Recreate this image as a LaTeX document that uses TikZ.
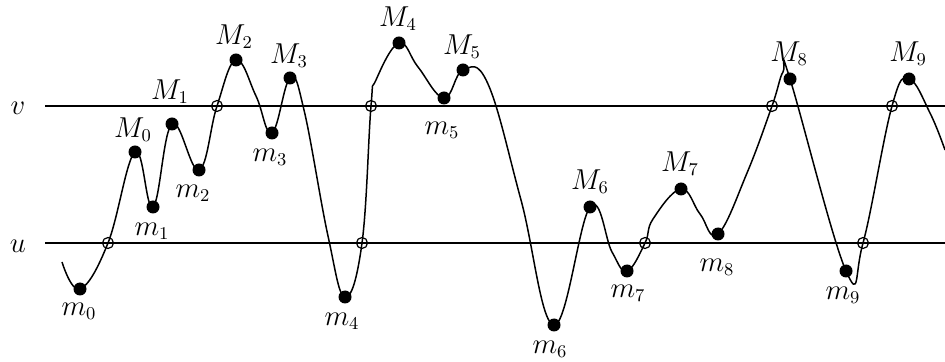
\documentclass[tikz,border=0pt]{standalone}
\begin{document}
\begin{tikzpicture}[x=0.5pt,y=-0.5pt,
  level/.style={line width=1.1pt},
  curve/.style={line width=0.75pt, line join=round},
  dotmark/.style={fill=black},
  crossmark/.style={line width=0.6pt},
  lab/.style={font=\fontsize{13.5}{16}\selectfont, inner sep=0pt}]
\useasboundingbox (0,0) rectangle (945,362);
% level lines
\coordinate (vL) at (45,106); \coordinate (vR) at (945,106);
\coordinate (uL) at (45,243); \coordinate (uR) at (945,243);
\draw[level] (vL) -- (vR);
\draw[level] (uL) -- (uR);
\node[lab] (lv) at (18,108) {$v$};
\node[lab] (lu) at (18,246) {$u$};
% extrema
\coordinate (m0) at (80,289);
\coordinate (M0) at (135,152);
\coordinate (m1) at (153,207);
\coordinate (M1) at (172,124);
\coordinate (m2) at (199,170);
\coordinate (M2) at (236,60);
\coordinate (m3) at (272,133);
\coordinate (M3) at (290,78);
\coordinate (m4) at (345,297);
\coordinate (M4) at (399,43);
\coordinate (m5) at (444,98);
\coordinate (M5) at (463,70);
\coordinate (m6) at (554,325);
\coordinate (M6) at (590,207);
\coordinate (m7) at (627,271);
\coordinate (M7) at (681,189);
\coordinate (m8) at (718,234);
\coordinate (M8) at (790,79);
\coordinate (m9) at (846,271);
\coordinate (M9) at (909,79);
% crossings
\coordinate (cu0) at (108,243);
\coordinate (cv0) at (217,106);
\coordinate (cu1) at (362,243);
\coordinate (cv1) at (371,106);
\coordinate (cu2) at (645,243);
\coordinate (cv2) at (772,106);
\coordinate (cu3) at (863,243);
\coordinate (cv3) at (892,106);
% shaping points
\coordinate (s0) at (62,262);
\coordinate (a1) at (256,96);
\coordinate (a2) at (304,110);
\coordinate (a4) at (328,236);
\coordinate (a6) at (376,80);
\coordinate (a7) at (418,67);
\coordinate (a8) at (488,84);
\coordinate (a10) at (521,200);
\coordinate (a13) at (612,252);
\coordinate (a14) at (653,219);
\coordinate (a15) at (700,214);
\coordinate (a16) at (747,173);
\coordinate (a18) at (783,72);
\coordinate (a23) at (930,113);
\coordinate (e0) at (945,150);
% curve
\draw[curve] plot[smooth, tension=0.68] coordinates {
 (s0) (m0) (cu0) (M0) (m1) (M1) (m2) (cv0) (M2) (a1) (m3) (M3) (a2) (a4) (m4)
 (cu1) (cv1) (a6) (M4) (a7) (m5) (M5) (a8) (a10) (m6) (M6)
 (a13) (m7) (cu2) (a14) (M7) (a15) (m8) (a16) (cv2) (a18) (M8)
 (m9) (cu3) (cv3) (M9) (a23) (e0)};
% markers
\foreach \p in {m0,M0,m1,M1,m2,M2,m3,M3,m4,M4,m5,M5,m6,M6,m7,M7,m8,M8,m9,M9}
  \fill[dotmark] (\p) circle (6.5);
\foreach \p in {cu0,cv0,cu1,cv1,cu2,cv2,cu3,cv3}
  \draw[crossmark] (\p) circle (5.5);
% labels
\node[lab] (lm0) at (79,311) {$m_0$};
\node[lab] (lM0) at (133,130) {$M_0$};
\node[lab] (lm1) at (152,231) {$m_1$};
\node[lab] (lM1) at (170,92) {$M_1$};
\node[lab] (lm2) at (193,193) {$m_2$};
\node[lab] (lM2) at (234,37) {$M_2$};
\node[lab] (lm3) at (270,157) {$m_3$};
\node[lab] (lM3) at (289,56) {$M_3$};
\node[lab] (lm4) at (342,321) {$m_4$};
\node[lab] (lM4) at (398,19) {$M_4$};
\node[lab] (lm5) at (442,130) {$m_5$};
\node[lab] (lM5) at (462,47) {$M_5$};
\node[lab] (lm6) at (550,349) {$m_6$};
\node[lab] (lM6) at (590,182) {$M_6$};
\node[lab] (lm7) at (628,293) {$m_7$};
\node[lab] (lM7) at (680,164) {$M_7$};
\node[lab] (lm8) at (717,267) {$m_8$};
\node[lab] (lM8) at (789,54) {$M_8$};
\node[lab] (lm9) at (843,295) {$m_9$};
\node[lab] (lM9) at (908,54) {$M_9$};
\end{tikzpicture}
\end{document}
